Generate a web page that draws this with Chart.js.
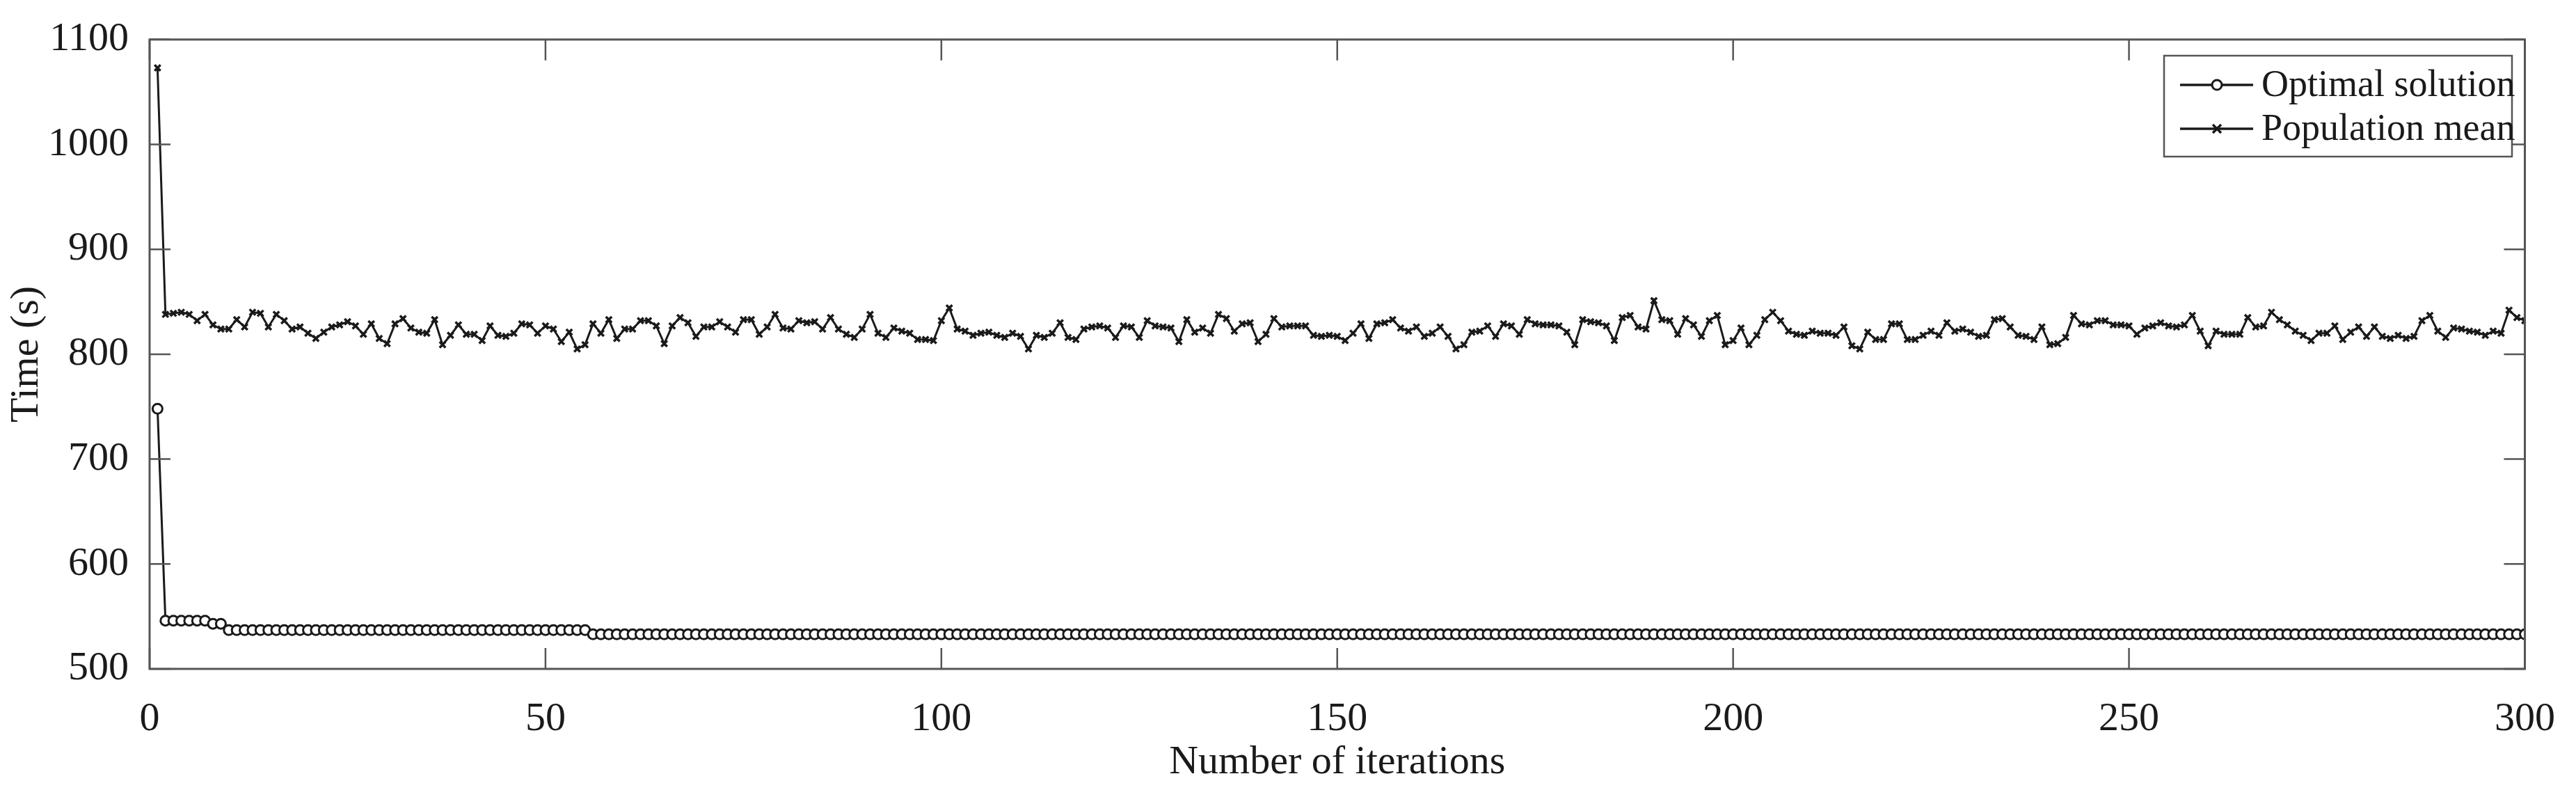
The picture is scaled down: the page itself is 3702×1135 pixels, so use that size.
<!DOCTYPE html>
<html>
<head>
<meta charset="utf-8">
<script src="https://cdn.jsdelivr.net/npm/chart.js@4.4.0/dist/chart.umd.min.js"></script>
<style>
  html, body { margin: 0; padding: 0; background: #fff; }
  #wrap { width: 3702px; height: 1135px; }
</style>
</head>
<body>
<div id="wrap"><canvas id="chart" width="3702" height="1135"></canvas></div>
<script>
// Iteration numbers 1..300
const iterations = [];
for (let i = 1; i <= 300; i++) iterations.push(i);

const optimalSolution = [
  748, 546, 546, 546, 546, 546, 546, 543, 543,
  537, 537, 537, 537, 537, 537, 537, 537, 537, 537, 537, 537, 537, 537, 537, 537, 537, 537, 537, 537,
  537, 537, 537, 537, 537, 537, 537, 537, 537, 537, 537, 537, 537, 537, 537, 537, 537, 537, 537, 537,
  537, 537, 537, 537, 537, 537,
  533, 533, 533, 533, 533, 533, 533, 533, 533, 533, 533, 533, 533, 533, 533, 533, 533, 533, 533, 533,
  533, 533, 533, 533, 533, 533, 533, 533, 533, 533, 533, 533, 533, 533, 533, 533, 533, 533, 533, 533,
  533, 533, 533, 533, 533, 533, 533, 533, 533, 533, 533, 533, 533, 533, 533, 533, 533, 533, 533, 533,
  533, 533, 533, 533, 533, 533, 533, 533, 533, 533, 533, 533, 533, 533, 533, 533, 533, 533, 533, 533,
  533, 533, 533, 533, 533, 533, 533, 533, 533, 533, 533, 533, 533, 533, 533, 533, 533, 533, 533, 533,
  533, 533, 533, 533, 533, 533, 533, 533, 533, 533, 533, 533, 533, 533, 533, 533, 533, 533, 533, 533,
  533, 533, 533, 533, 533, 533, 533, 533, 533, 533, 533, 533, 533, 533, 533, 533, 533, 533, 533, 533,
  533, 533, 533, 533, 533, 533, 533, 533, 533, 533, 533, 533, 533, 533, 533, 533, 533, 533, 533, 533,
  533, 533, 533, 533, 533, 533, 533, 533, 533, 533, 533, 533, 533, 533, 533, 533, 533, 533, 533, 533,
  533, 533, 533, 533, 533, 533, 533, 533, 533, 533, 533, 533, 533, 533, 533, 533, 533, 533, 533, 533,
  533, 533, 533, 533, 533, 533, 533, 533, 533, 533, 533, 533, 533, 533, 533, 533, 533, 533, 533, 533,
  533, 533, 533, 533, 533, 533, 533, 533, 533, 533, 533, 533, 533, 533, 533, 533, 533, 533, 533, 533,
  533, 533, 533, 533, 533
];

const populationMean = [
  1073, 838, 839, 840, 838, 832, 838, 828, 824, 824,
  833, 826, 840, 839, 826, 838, 832, 824, 826, 820,
  815, 821, 826, 828, 831, 827, 819, 829, 815, 810,
  829, 834, 825, 821, 820, 833, 809, 818, 828, 819,
  819, 813, 827, 818, 817, 820, 829, 828, 820, 827,
  824, 812, 821, 805, 809, 829, 820, 833, 815, 824,
  824, 832, 832, 827, 810, 827, 835, 830, 817, 826,
  826, 831, 826, 821, 833, 833, 819, 826, 838, 825,
  824, 832, 830, 831, 824, 835, 824, 819, 816, 824,
  838, 820, 816, 825, 822, 820, 814, 814, 813, 832,
  844, 824, 822, 818, 820, 821, 818, 816, 820, 817,
  805, 818, 816, 820, 830, 816, 814, 824, 826, 827,
  825, 816, 827, 826, 816, 832, 827, 826, 825, 812,
  833, 821, 825, 820, 838, 834, 822, 829, 830, 812,
  819, 834, 826, 827, 827, 827, 818, 817, 818, 817,
  813, 820, 829, 815, 829, 830, 833, 825, 822, 826,
  817, 820, 826, 817, 805, 809, 821, 822, 827, 817,
  829, 827, 819, 833, 829, 828, 828, 827, 821, 809,
  833, 831, 830, 827, 813, 835, 837, 826, 824, 851,
  833, 832, 819, 834, 828, 817, 832, 837, 809, 813,
  825, 809, 818, 833, 840, 832, 822, 819, 818, 822,
  820, 820, 818, 826, 808, 805, 821, 814, 814, 829,
  829, 814, 814, 818, 822, 818, 830, 822, 824, 821,
  817, 818, 833, 834, 826, 818, 817, 814, 826, 809,
  810, 816, 837, 829, 828, 832, 832, 828, 828, 827,
  819, 825, 827, 830, 827, 826, 828, 837, 822, 808,
  822, 819, 819, 819, 835, 826, 827, 840, 833, 828,
  822, 818, 813, 820, 820, 827, 814, 821, 826, 817,
  826, 817, 815, 818, 815, 817, 832, 837, 822, 816,
  825, 824, 822, 821, 818, 822, 820, 842, 835, 832
];

const xTicks = [0, 50, 100, 150, 200, 250, 300];
const yTicks = [500, 600, 700, 800, 900, 1000, 1100];

const FONT = "'Liberation Serif', 'Times New Roman', serif";
const INK = "#1a1a1a";

// Box, inward ticks on all four sides, and the legend inside the top right
const framePlugin = {
  id: "frame",
  afterDatasetsDraw(chart) {
    const { ctx, chartArea: a, scales } = chart;
    ctx.save();
    ctx.strokeStyle = "#555";
    ctx.lineWidth = 3;
    ctx.strokeRect(a.left, a.top, a.right - a.left, a.bottom - a.top);
    const tl = 30;
    ctx.lineWidth = 2.5;
    ctx.beginPath();
    xTicks.forEach(v => {
      const x = scales.x.getPixelForValue(v);
      ctx.moveTo(x, a.bottom); ctx.lineTo(x, a.bottom - tl);
      ctx.moveTo(x, a.top); ctx.lineTo(x, a.top + tl);
    });
    yTicks.forEach(v => {
      const y = scales.y.getPixelForValue(v);
      ctx.moveTo(a.left, y); ctx.lineTo(a.left + tl, y);
      ctx.moveTo(a.right, y); ctx.lineTo(a.right - tl, y);
    });
    ctx.stroke();

    // legend
    const bx = 3110, by = 80, bw = 500, bh = 145;
    ctx.fillStyle = "#fff";
    ctx.fillRect(bx, by, bw, bh);
    ctx.strokeStyle = "#555";
    ctx.lineWidth = 2.5;
    ctx.strokeRect(bx, by, bw, bh);
    const rows = [
      { label: "Optimal solution", y: 122, style: "circle" },
      { label: "Population mean", y: 185, style: "cross" }
    ];
    rows.forEach(r => {
      ctx.strokeStyle = INK;
      ctx.lineWidth = 3.5;
      ctx.beginPath();
      ctx.moveTo(bx + 23, r.y); ctx.lineTo(bx + 128, r.y);
      ctx.stroke();
      const cx = bx + 76;
      ctx.beginPath();
      if (r.style === "circle") {
        ctx.lineWidth = 3;
        ctx.arc(cx, r.y, 7, 0, Math.PI * 2);
        ctx.fillStyle = "#fff";
        ctx.fill();
      } else {
        ctx.lineWidth = 3.5;
        ctx.moveTo(cx - 6, r.y - 6); ctx.lineTo(cx + 6, r.y + 6);
        ctx.moveTo(cx + 6, r.y - 6); ctx.lineTo(cx - 6, r.y + 6);
      }
      ctx.stroke();
      ctx.fillStyle = INK;
      ctx.font = "54px " + FONT;
      ctx.textBaseline = "middle";
      ctx.textAlign = "left";
      ctx.fillText(r.label, bx + 140, r.y + 2);
    });
    ctx.restore();
  }
};

const ctx = document.getElementById("chart").getContext("2d");
new Chart(ctx, {
  type: "line",
  data: {
    labels: iterations,
    datasets: [
      {
        label: "Optimal solution",
        data: optimalSolution.map((v, i) => ({ x: iterations[i], y: v })),
        borderColor: INK,
        borderWidth: 3,
        pointStyle: "circle",
        pointRadius: 7,
        pointBorderWidth: 3,
        pointBorderColor: INK,
        pointBackgroundColor: "#fff",
        tension: 0
      },
      {
        label: "Population mean",
        data: populationMean.map((v, i) => ({ x: iterations[i], y: v })),
        borderColor: INK,
        borderWidth: 3,
        pointStyle: "crossRot",
        pointRadius: 6,
        pointBorderWidth: 3.5,
        pointBorderColor: INK,
        tension: 0
      }
    ]
  },
  options: {
    responsive: false,
    animation: false,
    layout: { padding: { top: 41, right: 54, left: 0, bottom: 0 } },
    plugins: { legend: { display: false }, tooltip: { enabled: false } },
    scales: {
      x: {
        type: "linear",
        min: 0,
        max: 300,
        afterBuildTicks: s => { s.ticks = xTicks.map(v => ({ value: v })); },
        afterFit: s => { s.height = 174; },
        grid: { display: false },
        border: { display: false },
        ticks: { color: INK, font: { family: FONT, size: 58 }, padding: 30, maxRotation: 0, callback: v => String(v) },
        title: { display: true, text: "Number of iterations", color: INK, font: { family: FONT, size: 58 }, padding: { top: 0 } }
      },
      y: {
        min: 500,
        max: 1100,
        afterBuildTicks: s => { s.ticks = yTicks.map(v => ({ value: v })); },
        afterFit: s => { s.width = 215; },
        grid: { display: false },
        border: { display: false },
        ticks: { color: INK, font: { family: FONT, size: 58 }, padding: 22, callback: v => String(v) },
        title: { display: true, text: "Time (s)", color: INK, font: { family: FONT, size: 58 }, padding: { bottom: 0 } }
      }
    }
  },
  plugins: [framePlugin]
});
</script>
</body>
</html>
